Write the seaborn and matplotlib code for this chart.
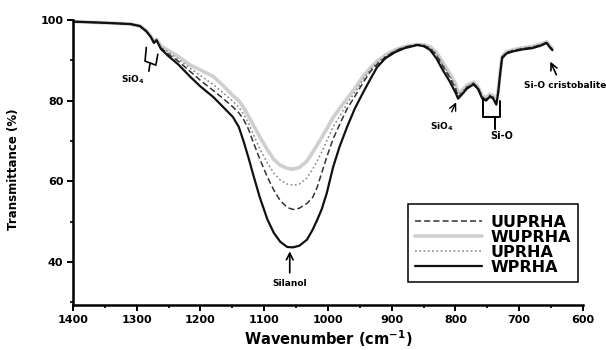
import numpy as np
import pandas as pd
import matplotlib
matplotlib.use("Agg")
import matplotlib.pyplot as plt
from matplotlib.ticker import MultipleLocator
import seaborn as sns

wavenumber = [1400, 1350, 1310, 1295, 1285, 1278, 1273, 1269, 1262, 1250,
              1235, 1216, 1200, 1180, 1165, 1149, 1140, 1133, 1125, 1118,
              1107, 1095, 1085, 1075, 1064, 1055, 1045, 1033, 1024, 1017,
              1010, 1002, 992, 982, 970, 958, 945, 933, 923, 910,
              895, 880, 860, 850, 840, 830, 820, 810, 800, 796,
              790, 782, 772, 765, 758, 752, 746, 741, 736, 733,
              730, 727, 720, 710, 695, 680, 667, 657, 652, 648]

wprha = [99.6, 99.3, 99.0, 98.5, 97.2, 95.8, 94.3, 95.0, 92.8, 91.0,
         89.0, 85.9, 83.5, 80.9, 78.5, 75.9, 73.5, 70.2, 66.0, 62.0,
         56.0, 50.5, 47.2, 45.0, 43.7, 43.6, 44.0, 45.5, 48.0, 50.4,
         53.0, 57.0, 63.5, 68.5, 73.5, 78.0, 82.0, 85.5, 88.3, 90.5,
         92.0, 93.0, 93.8, 93.5, 92.6, 90.5, 87.6, 85.0, 82.0, 80.5,
         81.5, 83.0, 84.0, 83.0, 80.5, 80.0, 81.0, 80.5, 79.0, 82.0,
         86.5, 90.5, 91.7, 92.2, 92.7, 93.0, 93.6, 94.3, 93.2, 92.5]

uuprha = [99.6, 99.3, 99.0, 98.5, 97.2, 95.8, 94.4, 95.0, 93.0, 91.5,
          89.8, 87.2, 85.0, 82.5, 80.6, 78.4, 77.0, 75.5, 73.0, 70.0,
          65.5, 61.0, 57.8, 55.2, 53.5, 53.0, 53.3, 54.5, 56.0, 58.5,
          62.0, 66.0, 70.5, 74.0, 78.0, 81.0, 84.5, 87.3, 89.0, 90.8,
          92.3, 93.3, 93.9, 93.7, 93.0, 91.3, 88.6, 86.0, 83.0, 81.0,
          81.8, 83.3, 84.3, 83.3, 80.8, 80.3, 81.2, 80.8, 79.4, 82.3,
          86.8, 90.8, 91.9, 92.4, 92.9, 93.2, 93.8, 94.4, 93.4, 92.7]

wuprha = [99.6, 99.3, 99.0, 98.5, 97.3, 96.0, 94.6, 95.2, 93.6, 92.4,
          91.0, 88.8, 87.6, 86.0, 83.8, 81.2, 80.0, 78.4, 76.2, 74.2,
          71.0, 67.8, 65.4, 64.0, 63.2, 63.0, 63.4, 65.0, 67.2, 69.0,
          70.8, 73.0, 75.8, 78.0, 80.5, 83.0, 86.0, 88.2, 89.8, 91.3,
          92.6, 93.4, 93.9, 93.9, 93.4, 92.0, 89.5, 87.0, 84.2, 82.0,
          82.5, 83.8, 84.6, 83.6, 81.2, 80.8, 81.6, 81.2, 79.8, 82.6,
          87.0, 91.0, 92.1, 92.6, 93.1, 93.4, 94.0, 94.6, 93.6, 92.9]

uprha = [99.6, 99.3, 99.0, 98.5, 97.2, 95.9, 94.5, 95.1, 93.3, 92.0,
         90.3, 88.0, 86.2, 84.0, 82.0, 79.8, 78.4, 76.8, 74.5, 72.0,
         68.0, 64.5, 62.0, 60.3, 59.3, 59.0, 59.3, 60.8, 63.0, 65.0,
         67.2, 70.0, 73.5, 76.0, 79.3, 82.0, 85.2, 87.8, 89.4, 91.0,
         92.4, 93.3, 93.9, 93.8, 93.2, 91.7, 89.0, 86.5, 83.6, 81.5,
         82.2, 83.5, 84.4, 83.4, 81.0, 80.5, 81.4, 81.0, 79.6, 82.4,
         86.9, 90.9, 92.0, 92.5, 93.0, 93.3, 93.9, 94.5, 93.5, 92.8]

legend_order = ["UUPRHA", "WUPRHA", "UPRHA", "WPRHA"]
x_ticks = [1400, 1300, 1200, 1100, 1000, 900, 800, 700, 600]
y_ticks = [40, 60, 80, 100]

series = {"UUPRHA": uuprha, "WUPRHA": wuprha, "UPRHA": uprha, "WPRHA": wprha}
df = pd.concat([pd.DataFrame({"Wavenumber": wavenumber, "T": v, "sample": k})
                for k, v in series.items()], ignore_index=True)

sns.set_theme(style="ticks")
plt.rcParams["font.family"] = ["DejaVu Sans"]
plt.rcParams["text.color"] = "black"
plt.rcParams["axes.labelcolor"] = "black"
plt.rcParams["xtick.labelcolor"] = "black"
plt.rcParams["ytick.labelcolor"] = "black"

fig = plt.figure(figsize=(6.06, 3.5), dpi=100)
ax = fig.add_axes([73/606, 1-305/350, 510/606, 285/350])

styles = {
    "WUPRHA": dict(color="#cfcfcf", lw=2.6, ls="-"),
    "UPRHA": dict(color="#8a8a8a", lw=1.1, ls=(0, (1.2, 1.6))),
    "UUPRHA": dict(color="#333333", lw=1.1, ls=(0, (4, 2))),
    "WPRHA": dict(color="#111111", lw=1.6, ls="-"),
}
handles = {}
for name in ["WUPRHA", "UPRHA", "UUPRHA", "WPRHA"]:
    sub = df[df["sample"] == name]
    st = styles[name]
    sns.lineplot(data=sub, x="Wavenumber", y="T", ax=ax, color=st["color"],
                 linewidth=st["lw"], linestyle=st["ls"], estimator=None,
                 sort=False, label=name, legend=False)
    handles[name] = ax.lines[-1]

ax.set_xlim(1400, 600)
ax.set_ylim(29.3, 100)
ax.set_xticks(x_ticks)
ax.set_yticks(y_ticks)
ax.xaxis.set_minor_locator(MultipleLocator(50))
ax.yaxis.set_minor_locator(MultipleLocator(10))
for s in ["top", "right"]:
    ax.spines[s].set_visible(False)
for s in ["left", "bottom"]:
    ax.spines[s].set_linewidth(1.8)
    ax.spines[s].set_color("black")
ax.tick_params(axis="both", which="major", length=4, width=1.4, color="black",
               labelsize=8, pad=3, labelcolor="black")
ax.tick_params(axis="both", which="minor", length=2, width=1.2, color="black")
for lab in ax.get_xticklabels() + ax.get_yticklabels():
    lab.set_fontweight("bold")

ax.set_xlabel("Wavenumber (cm$^{\\mathbf{-1}}$)", fontsize=10.5, fontweight="bold",
              color="black")
ax.xaxis.set_label_coords(0.5, -0.083)
ax.set_ylabel("Transmittance (%)", fontsize=8.5, fontweight="bold", color="black")
ax.yaxis.set_label_coords(-0.104, 0.475)

leg = ax.legend([handles[n] for n in legend_order], legend_order,
                loc="lower right", bbox_to_anchor=(0.99, 0.081),
                borderaxespad=0.0,
                prop={"size": 11.5, "weight": "bold"}, frameon=True,
                fancybox=False, framealpha=1, edgecolor="black",
                handlelength=4.2, handletextpad=0.5, labelspacing=0.0,
                borderpad=0.45, title=" ", title_fontsize=3)
leg.get_frame().set_linewidth(1.1)
for t in leg.get_texts():
    t.set_color("black")

ann = dict(fontsize=6.5, fontweight="bold", color="black")
# SiO4 bracket near 1270
ax.plot([1285, 1287, 1270, 1267], [93.2, 89.8, 88.8, 91.5], color="black", lw=1.2)
ax.plot([1279, 1281], [89.4, 87.3], color="black", lw=1.2)
ax.text(1306, 85.2, "SiO$_\\mathbf{4}$", ha="center", va="center", **ann)
# Si-O bracket
ax.plot([757, 757, 730, 730], [80.5, 75.9, 75.9, 80.0], color="black", lw=1.4)
ax.plot([738, 738], [75.9, 72.9], color="black", lw=1.4)
ax.text(727, 71.3, "Si-O", ha="center", va="center", fontsize=7,
        fontweight="bold", color="black")
# SiO4 arrow near 800
ax.annotate("", xy=(797, 80.2), xytext=(808, 76.6),
            arrowprops=dict(arrowstyle="->", color="black", lw=1.0))
ax.text(821, 73.5, "SiO$_\\mathbf{4}$", ha="center", va="center", **ann)
# Silanol
ax.annotate("", xy=(1060, 43.3), xytext=(1060, 36.6),
            arrowprops=dict(arrowstyle="->", color="black", lw=1.2))
ax.text(1060, 34.6, "Silanol", ha="center", va="center", **ann)
# Si-O cristobalite
ax.annotate("", xy=(653, 90.3), xytext=(640, 85.8),
            arrowprops=dict(arrowstyle="->", color="black", lw=1.2))
ax.text(628, 83.8, "Si-O cristobalite", ha="center", va="center",
        clip_on=False, **ann)

fig.savefig("out.png", dpi=100)
